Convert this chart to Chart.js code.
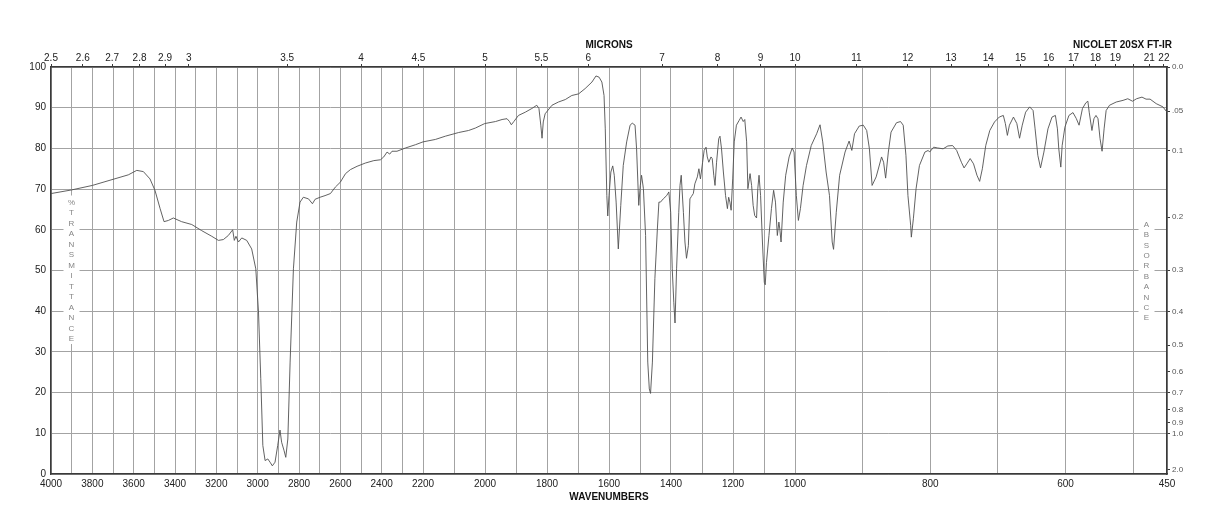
<!DOCTYPE html>
<html>
<head>
<meta charset="utf-8">
<title>IR spectrum</title>
<script src="https://cdn.jsdelivr.net/npm/chart.js@4.4.1/dist/chart.umd.min.js"></script>
<style>
    html, body { margin: 0; padding: 0; background: #fff; }
    #wrap { width: 1218px; height: 528px; position: relative; }
</style>
</head>
<body>
<div id="wrap"><canvas id="irChart"></canvas></div>
<script>
// trace: wavenumber (cm-1) and %T
const wavenumbers = [
    4000, 3900, 3800, 3700, 3626, 3585, 3553, 3521, 3497, 3472, 3453, 3432, 3408, 3368, 3319, 3271,
    3222, 3190, 3166, 3142, 3121, 3113, 3105, 3093, 3077, 3053, 3029, 3009, 2996, 2985, 2975, 2964,
    2951, 2940, 2929, 2916, 2903, 2892, 2884, 2872, 2864, 2854, 2843, 2827, 2811, 2795, 2779, 2754,
    2735, 2722, 2698, 2674, 2648, 2624, 2600, 2575, 2551, 2519, 2479, 2438, 2406, 2390, 2374, 2361,
    2350, 2326, 2285, 2237, 2200, 2160, 2128, 2085, 2053, 2031, 2001, 1966, 1945, 1929, 1921, 1915,
    1907, 1892, 1870, 1849, 1833, 1826, 1820, 1816, 1812, 1806, 1784, 1763, 1741, 1720, 1698, 1677,
    1655, 1642, 1632, 1623, 1616, 1612, 1607, 1604, 1600, 1594, 1588, 1583, 1577, 1570, 1562, 1554,
    1543, 1532, 1525, 1516, 1511, 1504, 1499, 1495, 1489, 1482, 1475, 1470, 1466, 1460, 1452, 1444,
    1439, 1434, 1425, 1414, 1407, 1401, 1396, 1391, 1387, 1382, 1375, 1371, 1367, 1360, 1355, 1350,
    1344, 1339, 1334, 1328, 1323, 1315, 1310, 1305, 1298, 1293, 1287, 1283, 1278, 1271, 1267, 1262,
    1258, 1253, 1246, 1242, 1237, 1231, 1224, 1218, 1214, 1210, 1206, 1201, 1196, 1189, 1180, 1174,
    1167, 1162, 1156, 1152, 1145, 1140, 1135, 1130, 1124, 1120, 1116, 1111, 1105, 1099, 1096, 1092,
    1084, 1076, 1069, 1063, 1057, 1052, 1049, 1045, 1038, 1030, 1019, 1009, 1003, 998, 995, 992,
    988, 983, 976, 968, 963, 959, 954, 949, 945, 943, 939, 934, 926, 920, 916, 912,
    905, 899, 894, 890, 886, 880, 872, 869, 866, 862, 858, 850, 844, 840, 836, 833,
    829, 828, 825, 821, 816, 808, 803, 801, 795, 789, 781, 774, 767, 761, 754, 750,
    746, 741, 736, 731, 727, 723, 718, 712, 705, 698, 692, 689, 686, 683, 677, 672,
    668, 664, 659, 653, 648, 645, 641, 637, 632, 626, 620, 615, 612, 610, 607, 605,
    601, 595, 589, 584, 580, 575, 570, 567, 565, 561, 558, 555, 552, 549, 546, 543,
    540, 535, 525, 515, 508, 501, 495, 487, 481, 475, 466, 456, 450
];
const transmittance = [
    68.9, 69.8, 70.9, 72.4, 73.5, 74.6, 74.3, 72.5, 69.7, 65.2, 62.0, 62.3, 62.9, 62.0, 61.3, 59.8,
    58.4, 57.4, 57.6, 58.6, 60.0, 57.4, 58.4, 57.0, 58.0, 57.4, 55.3, 50.4, 39.8, 23.4, 7.0, 3.3,
    3.7, 2.9, 2.0, 2.9, 7.0, 10.8, 7.8, 5.7, 4.1, 8.6, 27.5, 50.4, 61.9, 66.8, 68.0, 67.6,
    66.4, 67.5, 68.0, 68.4, 68.9, 70.5, 71.7, 73.8, 74.8, 75.6, 76.4, 77.0, 77.2, 77.9, 79.1, 78.6,
    79.3, 79.3, 80.1, 80.9, 81.6, 82.2, 83.0, 83.9, 84.4, 85.0, 86.1, 86.6, 87.1, 87.3, 86.6, 85.8,
    86.6, 88.1, 88.9, 89.8, 90.6, 89.8, 85.7, 82.5, 86.5, 88.5, 90.6, 91.4, 92.0, 93.0, 93.4, 94.7,
    96.3, 97.8, 97.5, 96.3, 93.0, 84.8, 68.4, 63.4, 68.4, 74.2, 75.7, 73.4, 66.8, 55.3, 66.0, 75.8,
    81.6, 85.7, 86.2, 85.7, 79.9, 66.0, 70.9, 73.4, 70.1, 58.6, 27.5, 20.9, 19.8, 27.5, 48.0, 60.2,
    66.8, 66.8, 67.6, 68.4, 69.3, 64.3, 50.4, 42.2, 37.1, 50.4, 64.3, 70.9, 73.4, 64.3, 57.0, 53.0,
    56.1, 67.6, 68.2, 68.9, 71.3, 73.0, 75.0, 72.5, 76.6, 79.5, 80.3, 77.9, 76.6, 77.9, 77.5, 73.4,
    70.9, 76.6, 82.4, 83.0, 79.9, 74.2, 68.4, 65.2, 68.0, 66.8, 64.8, 72.5, 81.6, 85.7, 86.9, 87.7,
    86.6, 87.1, 81.6, 70.1, 73.8, 70.9, 66.0, 63.5, 62.9, 70.1, 73.4, 68.4, 57.0, 47.1, 46.5, 52.0,
    58.6, 65.2, 69.7, 66.8, 58.6, 61.9, 60.2, 57.0, 66.8, 73.4, 77.9, 80.1, 79.1, 68.4, 62.3, 65.2,
    70.9, 75.8, 80.7, 83.6, 85.8, 81.6, 74.2, 68.4, 57.0, 55.2, 64.3, 73.4, 79.1, 81.8, 79.5, 83.6,
    85.5, 85.7, 84.4, 79.9, 70.9, 73.0, 77.9, 76.6, 72.7, 79.1, 84.0, 86.3, 86.6, 85.7, 78.3, 68.4,
    61.1, 58.2, 62.7, 70.1, 75.8, 79.1, 79.5, 79.1, 80.3, 80.1, 79.9, 80.6, 80.7, 79.5, 76.6, 75.2,
    76.2, 77.5, 76.2, 73.4, 71.9, 75.0, 80.7, 84.4, 86.5, 87.7, 88.1, 86.1, 83.2, 85.7, 87.7, 86.1,
    82.5, 85.7, 88.9, 90.2, 89.3, 84.8, 78.3, 75.2, 79.1, 84.8, 87.7, 88.1, 84.8, 79.9, 75.4, 80.7,
    85.2, 88.1, 88.8, 87.3, 85.7, 89.8, 91.2, 91.6, 88.9, 84.4, 87.3, 88.1, 87.3, 82.4, 79.3, 84.8,
    89.3, 90.6, 91.4, 91.8, 92.2, 91.6, 92.2, 92.6, 92.1, 92.1, 91.0, 90.2, 88.9
];

// bottom axis: gridline every 100 cm-1, only some get a number
const wnLabels = [4000, 3800, 3600, 3400, 3200, 3000, 2800, 2600, 2400, 2200, 2000,
    1800, 1600, 1400, 1200, 1000, 800, 600, 450];
// top axis in microns
const micronTicks = [2.5, 2.6, 2.7, 2.8, 2.9, 3, 3.5, 4, 4.5, 5, 5.5, 6, 7, 8, 9, 10,
    11, 12, 13, 14, 15, 16, 17, 18, 19, 20, 21, 22];
const micronLabels = ['2.5', '2.6', '2.7', '2.8', '2.9', '3', '3.5', '4', '4.5', '5', '5.5', '6', '7', '8', '9', '10',
    '11', '12', '13', '14', '15', '16', '17', '18', '19', '', '21', '22'];
// right axis in absorbance units
const absorbanceTicks = [0, 0.05, 0.1, 0.2, 0.3, 0.4, 0.5, 0.6, 0.7, 0.8, 0.9, 1.0, 2.0];
const absorbanceLabels = ['0.0', '.05', '0.1', '0.2', '0.3', '0.4', '0.5', '0.6', '0.7', '0.8', '0.9', '1.0', '2.0'];

// the x axis is drawn in three equal panels: 4000-2200, 2200-1000, 1000-450
const SCALE_BREAKS = [4000, 2200, 1000, 450];

function wnToDecimal(v) {
    const n = SCALE_BREAKS.length - 1;
    for (let i = 0; i < n; i++) {
        const hi = SCALE_BREAKS[i], lo = SCALE_BREAKS[i + 1];
        if (v >= lo || i === n - 1) {
            return (i + (hi - v) / (hi - lo)) / n;
        }
    }
    return 0;
}

function decimalToWn(d) {
    const n = SCALE_BREAKS.length - 1;
    const i = Math.min(n - 1, Math.max(0, Math.floor(d * n)));
    const f = d * n - i;
    return SCALE_BREAKS[i] - f * (SCALE_BREAKS[i] - SCALE_BREAKS[i + 1]);
}

class WavenumberScale extends Chart.LinearScale {
    getPixelForValue(value) {
        if (value === null || value === undefined || isNaN(value)) return NaN;
        return this.getPixelForDecimal(wnToDecimal(value));
    }
    getValueForPixel(pixel) {
        return decimalToWn(this.getDecimalForPixel(pixel));
    }
}
WavenumberScale.id = 'wavenumber';
WavenumberScale.defaults = Chart.LinearScale.defaults;
Chart.register(WavenumberScale);

Chart.defaults.font.family = '"Liberation Sans", Arial, Helvetica, sans-serif';
Chart.defaults.color = '#222';

const GRID = '#a3a3a3';
const FRAME = '#3a3a3a';

function stackLetters(ctx, text, x, yStart, step) {
    ctx.fillStyle = '#fff';
    ctx.fillRect(x - 8, yStart - 7, 16, step * (text.length - 1) + 12);
    ctx.fillStyle = '#858585';
    for (let i = 0; i < text.length; i++) {
        ctx.fillText(text[i], x, yStart + i * step);
    }
}

const chartText = {
    id: 'chartText',
    afterDraw(chart) {
        const ctx = chart.ctx;
        const area = chart.chartArea;
        const mid = chart.scales.x.getPixelForValue(1600);
        ctx.save();
        ctx.textAlign = 'center';
        ctx.textBaseline = 'middle';
        ctx.fillStyle = '#111';
        ctx.font = 'bold 10px "Liberation Sans", Arial, sans-serif';
        ctx.fillText('MICRONS', mid, 45);
        ctx.fillText('WAVENUMBERS', mid, 497);
        ctx.textAlign = 'right';
        ctx.fillText('NICOLET 20SX FT-IR', area.right + 5, 45);

        ctx.textAlign = 'center';
        ctx.font = '8px "Liberation Sans", Arial, sans-serif';
        stackLetters(ctx, '%TRANSMITTANCE', area.left + 20.5, 202.5, 10.5);
        stackLetters(ctx, 'ABSORBANCE', area.right - 20.5, 224.5, 10.4);
        ctx.restore();
    }
};

const points = wavenumbers.map((w, i) => ({ x: w, y: transmittance[i] }));

new Chart(document.getElementById('irChart'), {
    type: 'line',
    data: {
        datasets: [{
            data: points,
            borderColor: '#505050',
            borderWidth: 0.9,
            pointRadius: 0,
            tension: 0,
            fill: false
        }]
    },
    options: {
        responsive: true,
        maintainAspectRatio: false,
        animation: false,
        layout: { padding: 0 },
        plugins: {
            legend: { display: false },
            tooltip: { enabled: false }
        },
        scales: {
            x: {
                type: 'wavenumber',
                position: 'bottom',
                min: 450,
                max: 4000,
                afterBuildTicks: (axis) => {
                    const list = [];
                    for (let w = 4000; w >= 500; w -= 100) list.push({ value: w });
                    list.push({ value: 450 });
                    axis.ticks = list;
                },
                afterFit: (axis) => { axis.height = 54; },
                grid: { color: GRID, lineWidth: 1, drawTicks: false },
                border: { color: FRAME, width: 1.5 },
                ticks: {
                    autoSkip: false,
                    maxRotation: 0,
                    minRotation: 0,
                    padding: 4,
                    font: { size: 10 },
                    callback: (value) => wnLabels.includes(value) ? String(value) : ''
                }
            },
            x2: {
                type: 'wavenumber',
                position: 'top',
                min: 450,
                max: 4000,
                afterBuildTicks: (axis) => {
                    axis.ticks = micronTicks.map(m => ({ value: 10000 / m }));
                },
                afterFit: (axis) => { axis.height = 67; },
                grid: { drawOnChartArea: false, color: FRAME, tickLength: 3 },
                border: { color: FRAME, width: 1.5 },
                ticks: {
                    autoSkip: false,
                    maxRotation: 0,
                    minRotation: 0,
                    padding: 0,
                    font: { size: 10 },
                    callback: (value, index) => micronLabels[index]
                }
            },
            y: {
                position: 'left',
                min: 0,
                max: 100,
                afterFit: (axis) => { axis.width = 51; },
                grid: { color: GRID, lineWidth: 1, drawTicks: false },
                border: { color: FRAME, width: 1.5 },
                ticks: { stepSize: 10, padding: 5, font: { size: 10 } }
            },
            yA: {
                position: 'right',
                min: 0,
                max: 100,
                afterBuildTicks: (axis) => {
                    axis.ticks = absorbanceTicks.map(a => ({ value: 100 * Math.pow(10, -a) }));
                },
                afterFit: (axis) => { axis.width = 51; },
                grid: { drawOnChartArea: false, color: FRAME, tickLength: 3 },
                border: { color: FRAME, width: 1.5 },
                ticks: {
                    autoSkip: false,
                    padding: 2,
                    color: '#555',
                    font: { size: 8 },
                    callback: (value, index) => absorbanceLabels[index]
                }
            }
        }
    },
    plugins: [chartText]
});
</script>
</body>
</html>
